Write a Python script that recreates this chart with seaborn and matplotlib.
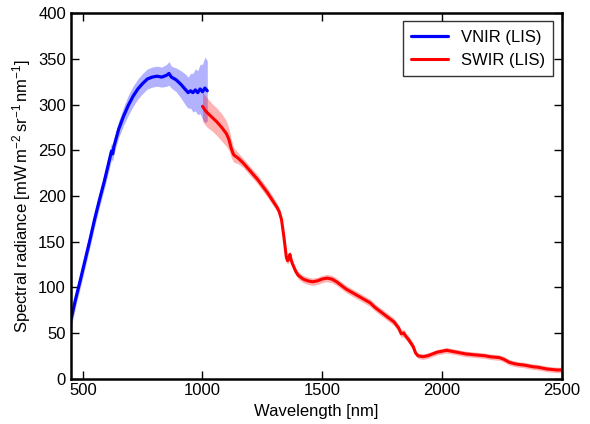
# plot.py
import matplotlib
matplotlib.use('Agg')
import matplotlib.pyplot as plt
import seaborn as sns
import numpy as np
import pandas as pd

# VNIR (LIS) spectrum
vnir_nm = [452, 470, 490, 510, 530, 550, 570, 590, 610, 620, 625, 630, 650, 670, 690,
           710, 730, 750, 770, 790, 810, 830, 850, 860, 870, 890, 910, 930, 940, 950,
           960, 970, 980, 990, 1000, 1010, 1020]
vnir_val = [66, 87, 108, 130, 152, 175, 196, 216, 238, 249, 246, 254, 273, 287, 299,
            309, 317, 323, 328, 330, 331, 330, 332, 334, 330, 327, 322, 316, 313, 315,
            313, 316, 313, 317, 314, 318, 315]
vnir_lo = [56, 79, 100, 122, 144, 167, 188, 208, 229, 240, 238, 246, 264, 277, 288,
           298, 306, 312, 317, 319, 320, 319, 320, 321, 318, 314, 307, 299, 296, 296,
           292, 293, 289, 290, 284, 280, 282]
vnir_hi = [76, 95, 116, 138, 160, 183, 204, 224, 247, 258, 254, 262, 282, 297, 310,
           320, 328, 334, 339, 341, 342, 341, 344, 347, 342, 340, 337, 333, 330, 334,
           334, 339, 337, 344, 344, 352, 348]

# SWIR (LIS) spectrum
swir_nm = [1000, 1010, 1020, 1040, 1060, 1080, 1100, 1110, 1120, 1130, 1150, 1170, 1190,
           1210, 1230, 1250, 1270, 1290, 1310, 1320, 1330, 1340, 1350, 1355, 1360, 1365,
           1370, 1375, 1380, 1390, 1400, 1420, 1440, 1460, 1480, 1500, 1520, 1540, 1560,
           1580, 1600, 1620, 1640, 1660, 1680, 1700, 1720, 1740, 1760, 1780, 1800, 1820,
           1830, 1840, 1850, 1860, 1870, 1880, 1890, 1900, 1920, 1940, 1960, 1980, 2000,
           2020, 2040, 2060, 2080, 2100, 2120, 2140, 2160, 2180, 2200, 2220, 2240, 2260,
           2280, 2300, 2320, 2340, 2360, 2380, 2400, 2420, 2440, 2460, 2480, 2500]
swir_val = [298, 294, 291, 286, 281, 275, 268, 262, 252, 245, 241, 236, 230,
            224, 218, 211, 204, 196, 188, 183, 174, 155, 133, 129, 131, 136,
            130, 126, 123, 117, 113, 109, 107, 106, 107, 109, 110, 109, 106,
            102, 98, 95, 92, 89, 86, 83, 78, 74, 70, 66, 62, 55,
            49, 50, 46, 43, 39, 35, 28, 25, 24, 25, 27, 29, 30,
            31, 30, 29, 28, 27, 26.5, 26, 25.5, 25, 24, 23.5, 23, 21,
            18, 16.5, 15.5, 15, 14, 13, 12.5, 11.5, 10.5, 10, 9.5, 9.5]
swir_err = [16, 16, 16, 15, 15, 15, 14, 12, 10, 8, 6, 5, 5,
            5, 5, 5, 5, 5, 4, 4, 4, 4, 4, 4, 4, 4,
            4, 4, 4, 4, 4, 4, 4, 4, 4, 4, 4, 4, 4,
            4, 4, 4, 4, 4, 4, 4, 4, 4, 4, 4, 4, 4,
            4, 4, 4, 4, 4, 4, 3, 3, 3, 3, 3, 3, 3,
            3, 3, 3, 3, 3, 3, 3, 3, 3, 3, 3, 3, 3,
            3, 3, 3, 3, 3, 3, 3, 3, 3, 3, 3, 3]

sns.set_style('ticks', {'axes.edgecolor': 'black', 'xtick.color': 'black',
                        'ytick.color': 'black', 'text.color': 'black',
                        'axes.labelcolor': 'black'})
plt.rcParams['font.family'] = ['Liberation Sans', 'DejaVu Sans']
plt.rcParams['mathtext.default'] = 'regular'
plt.rcParams['xtick.direction'] = 'in'
plt.rcParams['ytick.direction'] = 'in'

fig, ax = plt.subplots(figsize=(5.9, 4.24), dpi=100)
fig.subplots_adjust(left=0.12, right=0.952, bottom=0.107, top=0.969)

vnir = pd.DataFrame({'nm': vnir_nm, 'val': vnir_val})
swir = pd.DataFrame({'nm': swir_nm, 'val': swir_val})
swir_lo = np.array(swir_val) - np.array(swir_err)
swir_hi = np.array(swir_val) + np.array(swir_err)

ax.fill_between(vnir_nm, vnir_lo, vnir_hi, color='blue', alpha=0.3, lw=0)
ax.fill_between(swir_nm, swir_lo, swir_hi, color='red', alpha=0.3, lw=0)
sns.lineplot(data=vnir, x='nm', y='val', ax=ax, color='blue', lw=2.3, label='VNIR (LIS)')
sns.lineplot(data=swir, x='nm', y='val', ax=ax, color='red', lw=2.2, label='SWIR (LIS)')

ax.set_xlim(450, 2500)
ax.set_ylim(0, 400)
ax.set_xticks([500, 1000, 1500, 2000, 2500])
ax.set_yticks(range(0, 401, 50))
ax.tick_params(axis='both', labelsize=12, length=6, width=1, top=True, right=True,
               colors='black')
for s in ax.spines.values():
    s.set_linewidth(1.8)
    s.set_color('black')
ax.set_xlabel('Wavelength [nm]', fontsize=12)
ax.set_ylabel(r'Spectral radiance [mW$\,$m$^{-2}$$\,$sr$^{-1}$$\,$nm$^{-1}$]', fontsize=12)

leg = ax.legend(loc='upper right', fontsize=12, fancybox=False, frameon=True,
                handlelength=2.2, borderpad=0.5)
leg.get_frame().set_edgecolor('black')
leg.get_frame().set_linewidth(1)

fig.savefig('out.png', dpi=100)
